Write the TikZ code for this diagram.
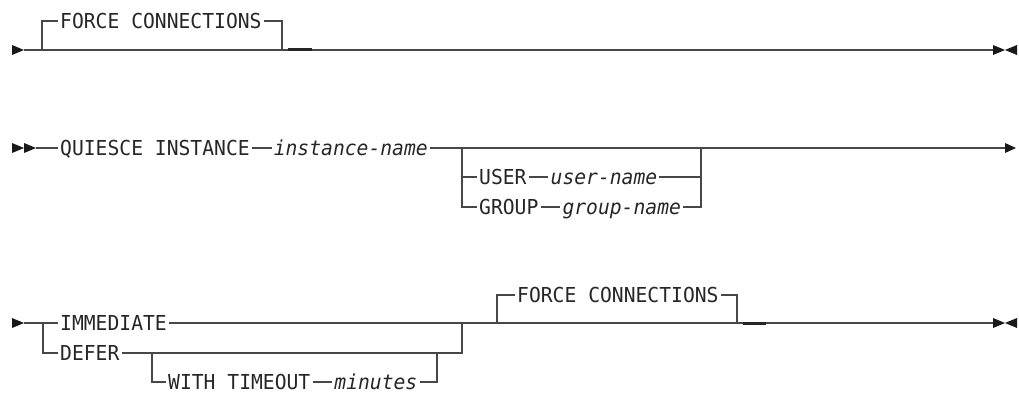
\documentclass[tikz,border=0pt]{standalone}
\usepackage{fontspec}
\setmonofont{DejaVu Sans Mono}[FakeStretch=0.955]
\usetikzlibrary{positioning}

\begin{document}
\begin{tikzpicture}[
    x=1pt, y=-1pt,
    node distance=19.7pt,
    % Text on the rails (one cell = 11.85pt)
    kw/.style={font=\fontsize{20.6}{24}\selectfont\ttfamily, text=black!85, inner sep=0pt, inner xsep=2pt, text height=15pt, text depth=0pt, anchor=west},
    var/.style={kw, font=\fontsize{20.6}{24}\selectfont\ttfamily\itshape},
    % Rails and tips
    rail/.style={draw=black!72, line width=1.3pt},
    dflt/.style={draw=black!85, line width=3pt},
    tip/.style={fill=black!90}
]
    \useasboundingbox (0,0) rectangle (1019,393);

    % ==================== Row 1: FORCE CONNECTIONS ====================
    \coordinate (start1) at (24,50);
    \coordinate (end1) at (993,50);
    \coordinate (fc1_in) at (42,50);
    \coordinate (fc1_out) at (282,50);
    \coordinate (dflt1_a) at (288,50);
    \coordinate (dflt1_b) at (312,50);
    \node[kw] (fc1) at (58,21) {FORCE CONNECTIONS};

    \draw[rail] (start1) -- (end1);
    \draw[rail] (fc1_in) |- (fc1.west);
    \draw[rail] (fc1.east) -| (fc1_out);
    \draw[dflt] (dflt1_a) -- (dflt1_b);

    \fill[tip] (12,45) -- (start1) -- (12,55) -- cycle;
    \fill[tip] (end1) ++(0,-5) -- (1005,50) -- (993,55) -- cycle;
    \fill[tip] (1017,45) -- (1005,50) -- (1017,55) -- cycle;

    % ==================== Row 2: QUIESCE INSTANCE ====================
    \coordinate (start2) at (36,148);
    \coordinate (end2) at (1005,148);
    \coordinate (usr_in) at (462,148);
    \coordinate (usr_out) at (701,148);
    \node[kw] (qi) at (58,148) {QUIESCE INSTANCE};
    \node[var, right=of qi] (inst) {instance-name};
    \node[kw] (usr) at (477,177) {USER};
    \node[var, right=of usr] (uname) {user-name};
    \node[kw] (grp) at (477,207) {GROUP};
    \node[var, right=of grp] (gname) {group-name};

    \draw[rail] (start2) -- (qi.west);
    \draw[rail] (qi.east) -- (inst.west);
    \draw[rail] (inst.east) -- (end2);
    % optional user / group choice
    \draw[rail] (usr_in) |- (grp.west);
    \draw[rail] (usr_in |- usr.west) -- (usr.west);
    \draw[rail] (usr.east) -- (uname.west);
    \draw[rail] (uname.east) -- (usr_out |- uname.east);
    \draw[rail] (grp.east) -- (gname.west);
    \draw[rail] (gname.east) -| (usr_out);

    \fill[tip] (12,143) -- (24,148) -- (12,153) -- cycle;
    \fill[tip] (24,143) -- (start2) -- (24,153) -- cycle;
    \fill[tip] (end2) ++(0,-5) -- (1016,148) -- (1005,153) -- cycle;

    % ==================== Row 3: IMMEDIATE / DEFER ====================
    \coordinate (start3) at (24,323);
    \coordinate (end3) at (993,323);
    \coordinate (mode_in) at (43,323);
    \coordinate (mode_out) at (462,323);
    \coordinate (wt_in) at (152,353);
    \coordinate (wt_out) at (437,353);
    \coordinate (fc2_in) at (497,323);
    \coordinate (fc2_out) at (737,323);
    \coordinate (dflt2_a) at (743,323);
    \coordinate (dflt2_b) at (766,323);
    \node[kw] (imm) at (58,323) {IMMEDIATE};
    \node[kw] (dfr) at (58,353) {DEFER};
    \node[kw] (wt) at (166,382) {WITH TIMEOUT};
    \node[var, right=of wt] (mins) {minutes};
    \node[kw] (fc2) at (515,295) {FORCE CONNECTIONS};

    \draw[rail] (start3) -- (imm.west);
    \draw[rail] (imm.east) -- (end3);
    \draw[rail] (mode_in) |- (dfr.west);
    \draw[rail] (dfr.east) -| (mode_out);
    % optional timeout
    \draw[rail] (wt_in) |- (wt.west);
    \draw[rail] (wt.east) -- (mins.west);
    \draw[rail] (mins.east) -| (wt_out);
    % optional force connections
    \draw[rail] (fc2_in) |- (fc2.west);
    \draw[rail] (fc2.east) -| (fc2_out);
    \draw[dflt] (dflt2_a) -- (dflt2_b);

    \fill[tip] (12,318) -- (start3) -- (12,328) -- cycle;
    \fill[tip] (end3) ++(0,-5) -- (1005,323) -- (993,328) -- cycle;
    \fill[tip] (1017,318) -- (1005,323) -- (1017,328) -- cycle;

\end{tikzpicture}
\end{document}
